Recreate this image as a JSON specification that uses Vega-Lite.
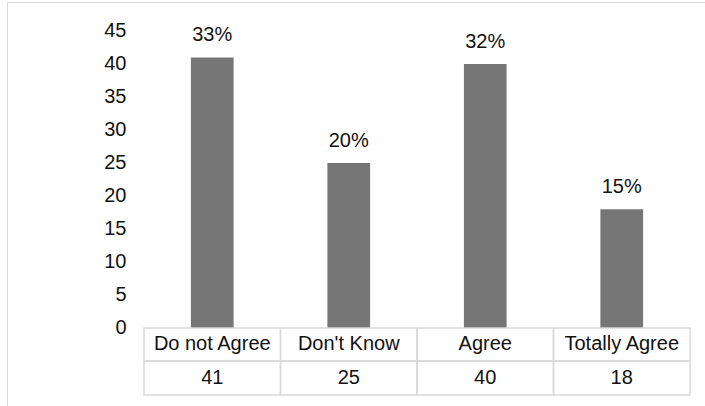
{
  "$schema": "https://vega.github.io/schema/vega-lite/v6.json",
  "width": 698,
  "height": 404,
  "autosize": {"type": "none"},
  "padding": {"left": 7, "top": 2, "right": 0, "bottom": 0},
  "background": "white",
  "config": {
    "view": {"stroke": null},
    "font": "Liberation Sans Narrow, Arial Narrow, Liberation Sans, sans-serif",
    "text": {"font": "Liberation Sans Narrow, Arial Narrow, Liberation Sans, sans-serif", "fontSize": 20, "color": "#111111"}
  },
  "data": {
    "values": [
      {"answer": "Do not Agree", "count": 41, "share": "33%"},
      {"answer": "Don't Know", "count": 25, "share": "20%"},
      {"answer": "Agree", "count": 40, "share": "32%"},
      {"answer": "Totally Agree", "count": 18, "share": "15%"}
    ]
  },
  "encoding": {
    "x": {
      "field": "answer",
      "type": "nominal",
      "sort": null,
      "scale": {"type": "band", "paddingInner": 0, "paddingOuter": 0.5568, "align": 0.9013},
      "axis": {"orient": "top", "title": null, "labels": false, "ticks": false, "grid": false, "domain": true, "domainColor": "#d9d9d9", "domainWidth": 1}
    }
  },
  "layer": [
    {
      "mark": {"type": "bar", "color": "#767676", "width": {"band": 0.313}},
      "encoding": {
        "y": {
          "field": "count",
          "type": "quantitative",
          "scale": {"domain": [-11.82, 49.39], "nice": false, "zero": false},
          "axis": {
            "title": null,
            "values": [0, 5, 10, 15, 20, 25, 30, 35, 40, 45],
            "ticks": false,
            "tickSize": 0,
            "grid": false,
            "domain": true,
            "domainColor": "#d9d9d9",
            "domainWidth": 1,
            "labelPadding": -119,
            "labelFont": "Liberation Sans Narrow, Arial Narrow, Liberation Sans, sans-serif",
            "labelFontSize": 20,
            "labelColor": "#111111"
          }
        }
      }
    },
    {
      "mark": {"type": "text", "baseline": "alphabetic", "dy": -16},
      "encoding": {
        "y": {"field": "count", "type": "quantitative", "title": null},
        "text": {"field": "share"}
      }
    },
    {
      "mark": {"type": "rect", "filled": false, "stroke": "#d9d9d9", "strokeWidth": 1.5},
      "encoding": {
        "y": {"datum": 0},
        "y2": {"datum": -5.0}
      }
    },
    {
      "mark": {"type": "rect", "filled": false, "stroke": "#d9d9d9", "strokeWidth": 1.5},
      "encoding": {
        "y": {"datum": -5.0},
        "y2": {"datum": -10.15}
      }
    },
    {
      "mark": {"type": "text", "baseline": "middle"},
      "encoding": {
        "y": {"datum": -2.5},
        "text": {"field": "answer"}
      }
    },
    {
      "mark": {"type": "text", "baseline": "middle"},
      "encoding": {
        "y": {"datum": -7.6},
        "text": {"field": "count"}
      }
    }
  ]
}
